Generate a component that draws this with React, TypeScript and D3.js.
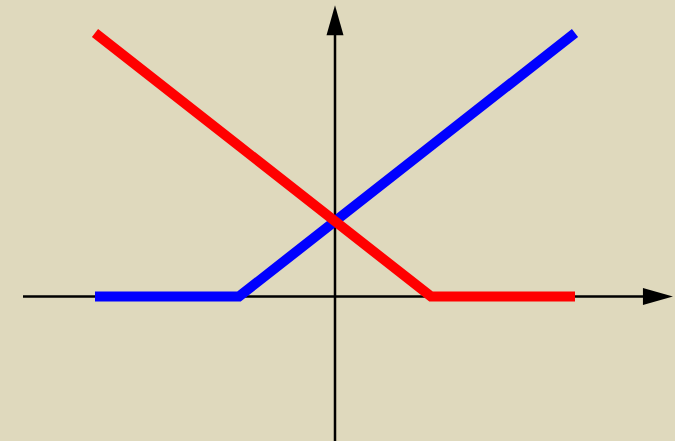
import React from "react";
import * as d3 from "d3";

const xValues = [-2.5, -1, 1, 2.5];
const blueValues = [0, 0, 2, 3.5];
const redValues = [3.5, 2, 0, 0];
const xAxisExtent = [-3.25, 3.52];
const yAxisExtent = [-1.95, 3.87];

const W = 675;
const H = 441;

export default function App() {
  const x = d3.scaleLinear().domain([-2.5, 2.5]).range([95, 575]);
  const y = d3.scaleLinear().domain([0, 3.5]).range([296.5, 33]);
  const line = d3
    .line<[number, number]>()
    .x((d) => x(d[0]))
    .y((d) => y(d[1]));
  const blue = xValues.map((v, i) => [v, blueValues[i]] as [number, number]);
  const red = xValues.map((v, i) => [v, redValues[i]] as [number, number]);

  const x0 = x(0);
  const y0 = y(0);
  const xEnd = x(xAxisExtent[1]);
  const yEnd = y(yAxisExtent[1]);
  const headLen = 30;
  const headHalf = 8.5;

  return (
    <svg
      width={W}
      height={H}
      style={{ position: "fixed", left: 0, top: 0, display: "block" }}
    >
      <rect x={0} y={0} width={W} height={H} fill="#dfd9bd" />
      {/* horizontal axis */}
      <line
        x1={x(xAxisExtent[0])}
        y1={y0}
        x2={xEnd - headLen + 1}
        y2={y0}
        stroke="#000"
        strokeWidth={2.5}
      />
      <path
        d={`M${xEnd},${y0} L${xEnd - headLen},${y0 - headHalf} L${xEnd - headLen},${y0 + headHalf} Z`}
        fill="#000"
      />
      {/* vertical axis */}
      <line
        x1={x0}
        y1={y(yAxisExtent[0])}
        x2={x0}
        y2={yEnd + headLen - 1}
        stroke="#000"
        strokeWidth={2.5}
      />
      <path
        d={`M${x0},${yEnd} L${x0 - headHalf},${yEnd + headLen} L${x0 + headHalf},${yEnd + headLen} Z`}
        fill="#000"
      />
      <path
        d={line(blue) || ""}
        fill="none"
        stroke="#0000ff"
        strokeWidth={10}
        strokeLinejoin="miter"
        strokeLinecap="butt"
      />
      <path
        d={line(red) || ""}
        fill="none"
        stroke="#ff0000"
        strokeWidth={10}
        strokeLinejoin="miter"
        strokeLinecap="butt"
      />
    </svg>
  );
}
